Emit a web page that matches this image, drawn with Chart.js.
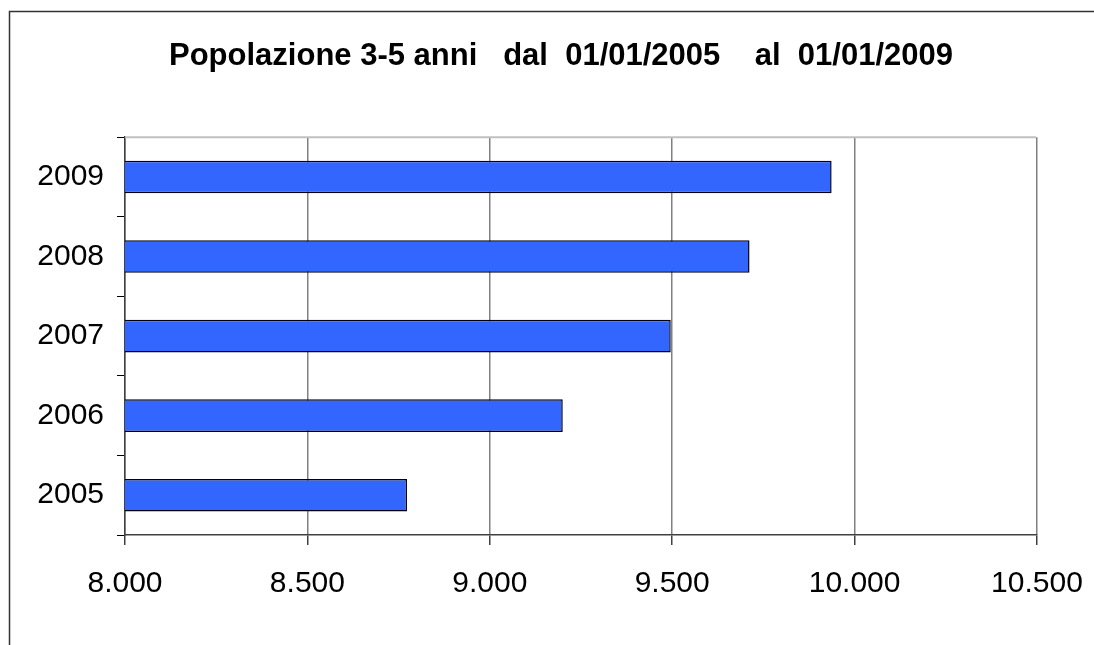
<!DOCTYPE html>
<html>
<head>
<meta charset="utf-8">
<script src="https://cdn.jsdelivr.net/npm/chart.js@4"></script>
<style>
  html, body { margin: 0; padding: 0; background: #fff; }
  #wrap { width: 1094px; height: 645px; position: relative; }
</style>
</head>
<body>
<div id="wrap"><canvas id="popChart"></canvas></div>
<script>
// Data
const years = ["2009", "2008", "2007", "2006", "2005"];
const popolazione = [9937, 9712, 9496, 9200, 8773];
const xTickLabels = ["8.000", "8.500", "9.000", "9.500", "10.000", "10.500"];
const xMin = 8000;
const xMax = 10500;
const xStep = 500;

const sans = "'Liberation Sans', Arial, sans-serif";

// Frame around the chart + top edge of the plot area
const framePlugin = {
  id: "frame",
  beforeDraw(chart) {
    const ctx = chart.ctx;
    ctx.save();
    ctx.fillStyle = "#fff";
    ctx.fillRect(0, 0, chart.width, chart.height);
    ctx.strokeStyle = "#333";
    ctx.lineWidth = 1.5;
    ctx.beginPath();
    ctx.moveTo(9.5, chart.height);
    ctx.lineTo(9.5, 11.5);
    ctx.lineTo(chart.width, 11.5);
    ctx.stroke();
    ctx.restore();
  },
  afterDatasetsDraw(chart) {
    const ctx = chart.ctx;
    const area = chart.chartArea;
    ctx.save();
    ctx.strokeStyle = "#c0c0c0";
    ctx.lineWidth = 2;
    ctx.beginPath();
    ctx.moveTo(area.left, area.top);
    ctx.lineTo(area.right - 1, area.top);
    ctx.stroke();
    ctx.restore();
  }
};

new Chart(document.getElementById("popChart"), {
  type: "bar",
  data: {
    labels: years,
    datasets: [
      {
        label: "Popolazione 3-5 anni",
        data: popolazione,
        backgroundColor: "#3366ff",
        borderColor: "#000014",
        borderWidth: 1.5,
        borderSkipped: false,
        categoryPercentage: 1,
        barPercentage: 0.41,
      },
    ],
  },
  options: {
    indexAxis: "y",
    responsive: true,
    maintainAspectRatio: false,
    animation: false,
    layout: {
      padding: { left: 28, right: 0, top: 0, bottom: 0 },
    },
    plugins: {
      legend: { display: false },
      tooltip: { enabled: false },
      title: {
        display: true,
        text: "Popolazione 3-5 anni   dal  01/01/2005    al  01/01/2009",
        color: "#000",
        font: { family: sans, size: 31, weight: "bold" },
        padding: { top: 38, bottom: 62 },
      },
    },
    scales: {
      x: {
        type: "linear",
        min: xMin,
        max: xMax,
        ticks: {
          stepSize: xStep,
          color: "#000",
          font: { family: sans, size: 30 },
          padding: 21,
          maxRotation: 0,
          callback: function (value, index) {
            return xTickLabels[index];
          },
        },
        grid: {
          color: "#808080",
          lineWidth: 1.5,
          tickLength: 10,
          tickColor: "#404040",
        },
        border: { color: "#404040", width: 1.5 },
        afterFit: function (scale) {
          scale.height = 110;
          scale.paddingLeft = 0;
          scale.paddingRight = 0;
        },
      },
      y: {
        type: "category",
        offset: true,
        ticks: {
          color: "#000",
          font: { family: sans, size: 30 },
          padding: 13,
        },
        grid: {
          offset: true,
          drawOnChartArea: false,
          tickLength: 8,
          color: "#000",
        },
        border: { color: "#404040", width: 1.5 },
        afterFit: function (scale) {
          scale.width = 97;
        },
      },
      yRight: {
        type: "category",
        position: "right",
        ticks: { display: false },
        grid: { display: false },
        border: { display: false },
        afterFit: function (scale) {
          scale.width = 57;
        },
      },
    },
  },
  plugins: [framePlugin],
});
</script>
</body>
</html>
